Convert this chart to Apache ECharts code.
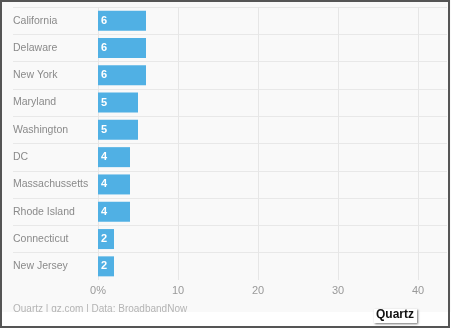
<!DOCTYPE html>
<html>
<head>
<meta charset="utf-8">
<script src="https://cdn.jsdelivr.net/npm/echarts@6/dist/echarts.min.js"></script>
<style>
html,body{margin:0;padding:0;background:#fff;}
#c{width:451px;height:330px;}
</style>
</head>
<body>
<div id="c"></div>
<script>
var states = ['California','Delaware','New York','Maryland','Washington','DC','Massachussetts','Rhode Island','Connecticut','New Jersey'];
var values = [6,6,6,5,5,4,4,4,2,2];
var xTicks = [0,10,20,30,40];
var sourceText = 'Quartz | qz.com | Data: BroadbandNow';
var logoText = 'Quartz';

var chart = echarts.init(document.getElementById('c'), null, {renderer:'canvas'});
var font = '"Liberation Sans", Arial, Helvetica, sans-serif';
chart.setOption({
  animation:false,
  backgroundColor:'#ffffff',
  textStyle:{fontFamily:font},
  graphic:[
    {type:'rect', z:-10, shape:{x:0,y:0,width:451,height:312}, style:{fill:'#f9f9f9'}},
    {type:'text', z:1, left:13, top:304, style:{text:sourceText, fill:'#b4b4b4', font:'10px '+font}},
    {type:'rect', z:2, shape:{x:2,y:312,width:446,height:14}, style:{fill:'#ffffff'}},
    {type:'rect', z:3, shape:{x:374,y:309,width:43,height:14}, style:{fill:'#ffffff', shadowBlur:2, shadowOffsetX:1, shadowOffsetY:1, shadowColor:'rgba(0,0,0,0.55)'}},
    {type:'text', z:4, left:376, top:309, style:{text:logoText, fill:'#111', font:'bold 12px '+font}},
    {type:'rect', z:10, shape:{x:1,y:1,width:448,height:326}, style:{fill:'none', stroke:'#555', lineWidth:2}}
  ],
  grid:[
    {left:13, right:4, top:7, height:245.7, containLabel:false},
    {left:98, right:33, top:7, height:273, containLabel:false}
  ],
  xAxis:[
    {gridIndex:0, type:'value', min:0, max:1, show:false},
    {gridIndex:1, type:'value', min:0, max:40, interval:10,
     axisLine:{show:false}, axisTick:{show:false},
     splitLine:{show:true, lineStyle:{color:'#e6e6e6', width:1}},
     axisLabel:{color:'#9a9a9a', fontSize:11, margin:5, fontFamily:font,
       formatter:function(v){ if(xTicks.indexOf(v)<0) return ''; return v===0 ? '0%' : String(v); }}
    }
  ],
  yAxis:[
    {gridIndex:0, type:'category', data:states, inverse:true, boundaryGap:false,
     axisLine:{show:false}, axisTick:{show:false}, axisLabel:{show:false},
     splitLine:{show:true, lineStyle:{color:'#e8e8e8', width:1}}},
    {gridIndex:1, type:'category', data:states, inverse:true,
     axisLine:{show:false}, axisTick:{show:false}, splitLine:{show:false},
     axisLabel:{color:'#8a8a8a', fontSize:10.5, align:'left', margin:85, fontFamily:font}}
  ],
  series:[{
    type:'bar', xAxisIndex:1, yAxisIndex:1, data:values, barWidth:20,
    itemStyle:{color:'#50b0e4'},
    label:{show:true, position:'insideLeft', distance:3, color:'#ffffff', fontWeight:'bold', fontSize:11, fontFamily:font}
  }]
});
</script>
</body>
</html>
